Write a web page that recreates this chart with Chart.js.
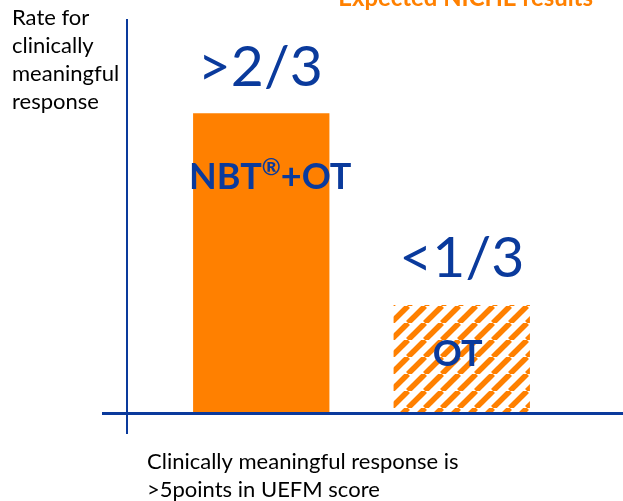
<!DOCTYPE html>
<html>
<head>
<meta charset="utf-8">
<script src="https://cdn.jsdelivr.net/npm/chart.js@4/dist/chart.umd.min.js"></script>
<style>
  html, body { margin: 0; padding: 0; background: #ffffff; }
  #wrap { width: 623px; height: 501px; position: relative; }
</style>
</head>
<body>
<div id="wrap"><canvas id="c" width="623" height="501"></canvas></div>
<script>
// ---- data ----
const categories = ['NBT®+OT', 'OT'];
const responseRates = [0.76, 0.272];
const rateLabels = ['>2/3', '<1/3'];
const yAxisTitle = ['Rate for', 'clinically', 'meaningful', 'response'];
const footnote = ['Clinically meaningful response is', '>5points in UEFM score'];
const chartTitle = 'Expected NICHE results';

const ORANGE = '#FF8000';
const BLUE = '#0A3A9C';
const AXIS = '#0A3A9C';

function hatch() {
  const P = 17;
  const c = document.createElement('canvas');
  c.width = P; c.height = P;
  const g = c.getContext('2d');
  g.strokeStyle = ORANGE;
  g.lineWidth = 5.5;
  for (let k = -1; k <= 1; k++) {
    g.beginPath();
    g.moveTo(k * P, P);
    g.lineTo(k * P + P, 0);
    g.stroke();
  }
  return g.createPattern(c, 'repeat');
}

const decor = {
  id: 'decor',
  beforeDatasetsDraw(chart) {
    const { ctx, chartArea } = chart;
    ctx.save();
    ctx.strokeStyle = AXIS;
    ctx.lineWidth = 2;
    ctx.beginPath();
    ctx.moveTo(chartArea.left - 34, chartArea.top);
    ctx.lineTo(chartArea.left - 34, chartArea.bottom + 22);
    ctx.stroke();
    ctx.restore();
  },
  afterDatasetsDraw(chart) {
    const { ctx, chartArea } = chart;
    const meta = chart.getDatasetMeta(0);
    ctx.save();
    ctx.strokeStyle = AXIS;
    ctx.lineWidth = 3;
    ctx.beginPath();
    ctx.moveTo(chartArea.left - 59, chartArea.bottom + 1.5);
    ctx.lineTo(chart.width, chartArea.bottom + 1.5);
    ctx.stroke();

    // title (cut at top), fitted to the visible span
    ctx.fillStyle = ORANGE;
    ctx.font = 'bold 40px Lato';
    const tw = ctx.measureText(chartTitle).width;
    const fs = 40 * 255 / tw;
    ctx.font = 'bold ' + fs.toFixed(1) + 'px Lato';
    ctx.textAlign = 'right';
    ctx.textBaseline = 'alphabetic';
    ctx.fillText(chartTitle, 593, 6);

    // y title
    ctx.fillStyle = '#000';
    ctx.font = '22px Lato';
    ctx.textAlign = 'left';
    ctx.textBaseline = 'middle';
    yAxisTitle.forEach((t, i) => ctx.fillText(t, 12, 18 + i * 28));

    // footnote
    footnote.forEach((t, i) => ctx.fillText(t, 147, 462 + i * 28));

    // rate labels above bars
    ctx.fillStyle = BLUE;
    ctx.font = '57px Lato';
    ctx.textAlign = 'center';
    ctx.textBaseline = 'middle';
    meta.data.forEach((bar, i) => {
      ctx.fillText(rateLabels[i], bar.x + (i === 0 ? -1 : 0), bar.y - 46);
    });

    // category labels inside bars
    ctx.textBaseline = 'middle';
    meta.data.forEach((bar, i) => {
      const name = categories[i];
      const cy = i === 0 ? bar.y + 64 : bar.y + 49;
      if (name.includes('®')) {
        const [a, b] = name.split('®');
        ctx.font = 'bold 36px Lato';
        const wa = ctx.measureText(a).width;
        const wb = ctx.measureText(b).width;
        ctx.font = 'bold 23px Lato';
        const wr = ctx.measureText('®').width;
        const total = wa + wr + wb;
        let x = bar.x + 9 - total / 2;
        ctx.textAlign = 'left';
        ctx.font = 'bold 36px Lato';
        ctx.fillText(a, x, cy);
        x += wa;
        ctx.font = 'bold 23px Lato';
        ctx.fillText('®', x, cy - 10);
        x += wr;
        ctx.font = 'bold 36px Lato';
        ctx.fillText(b, x, cy);
      } else {
        ctx.font = 'bold 36px Lato';
        ctx.textAlign = 'center';
        ctx.fillText(name, bar.x - 4, cy);
      }
    });
    ctx.restore();
  }
};

new Chart(document.getElementById('c'), {
  type: 'bar',
  data: {
    labels: categories,
    datasets: [{
      data: responseRates,
      backgroundColor: [ORANGE, hatch()],
      borderWidth: 0,
      barPercentage: 0.68,
      categoryPercentage: 1
    }]
  },
  options: {
    responsive: false,
    animation: false,
    layout: { padding: { left: 161, right: 61, top: 19, bottom: 89 } },
    plugins: { legend: { display: false }, tooltip: { enabled: false }, title: { display: false } },
    scales: {
      x: { display: false },
      y: { display: false, min: 0, max: 1 }
    }
  },
  plugins: [decor]
});
</script>
</body>
</html>
